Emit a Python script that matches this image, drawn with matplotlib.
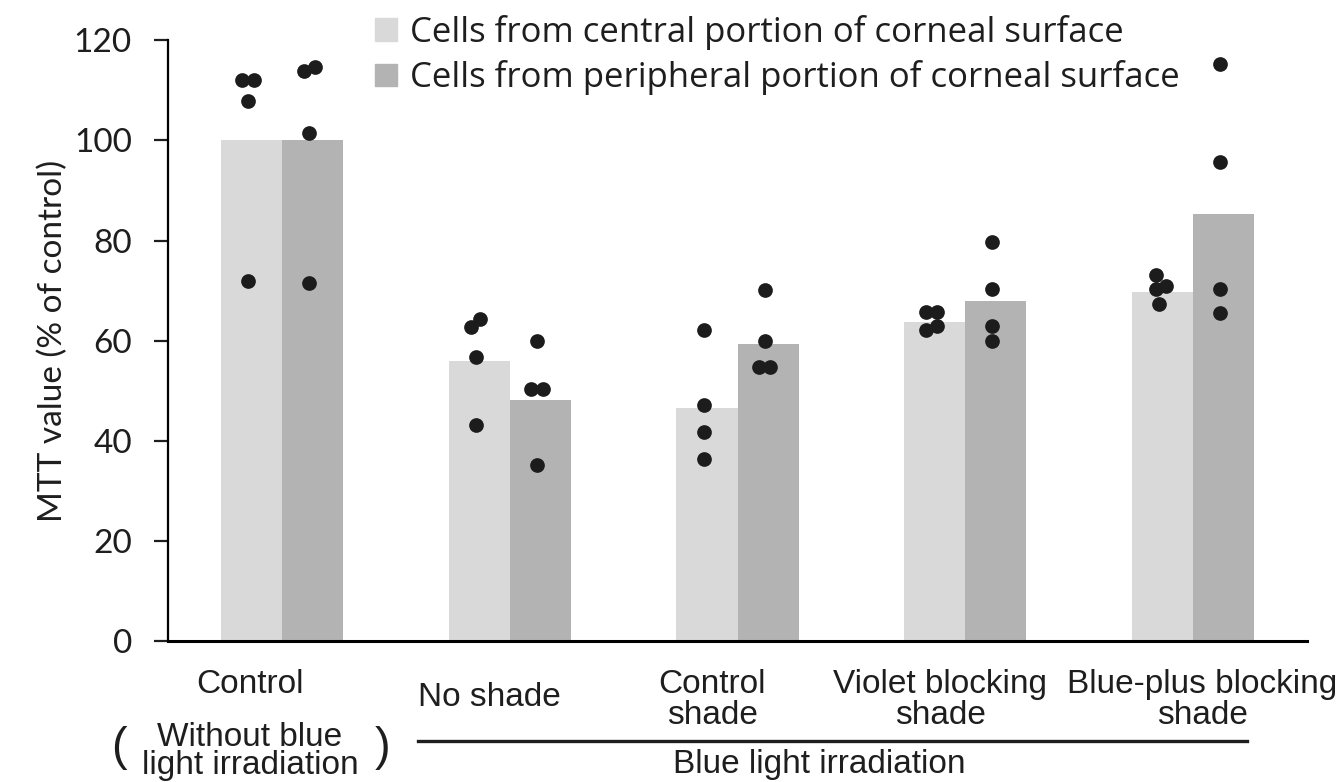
import numpy as np
import matplotlib.pyplot as plt
from matplotlib.patches import Patch

# data
groups = ["Control", "No shade", "Control\nshade", "Violet blocking\nshade", "Blue-plus blocking\nshade"]
central_mean = [100, 56.0, 46.5, 63.7, 69.7]
peripheral_mean = [100, 48.2, 59.3, 68.0, 85.3]
central_pts = [[112.0, 112.0, 107.8, 72.0],
               [64.3, 62.8, 56.7, 43.2],
               [62.1, 47.2, 41.7, 36.5],
               [65.8, 65.8, 62.9, 62.1],
               [73.1, 70.9, 70.3, 67.3]]
peripheral_pts = [[114.7, 113.9, 101.5, 71.6],
                  [60.0, 50.4, 50.4, 35.2],
                  [70.1, 59.9, 54.8, 54.8],
                  [79.7, 70.3, 62.9, 60.0],
                  [115.3, 95.7, 70.3, 65.5]]
series_names = ["Cells from central portion of corneal surface",
                "Cells from peripheral portion of corneal surface"]
ylabel = "MTT value (% of control)"
control_note = "Without blue\nlight irradiation"
irradiation_note = "Blue light irradiation"

main_font = ["Lato", "DejaVu Sans"]
legend_font = ["Open Sans", "DejaVu Sans"]
cat_font = ["Liberation Sans", "DejaVu Sans"]

c_light = "#d9d9d9"
c_dark = "#b3b3b3"
dot_c = "#1c1c1c"
txt_c = "#1e1e1e"

fig = plt.figure(figsize=(13.43, 7.82), dpi=100)
ax = fig.add_axes([0.1251, 0.1797, 0.8481, 0.7691])

x = np.arange(len(groups))
w = 0.268
ax.bar(x - w / 2, central_mean, w, color=c_light, zorder=1)
ax.bar(x + w / 2, peripheral_mean, w, color=c_dark, zorder=1)

# simple swarm so the dots do not sit on top of each other
px_x = 228.0        # pixels per x unit
px_y = 601.5 / 120  # pixels per y unit
gap = 11.5          # centre distance of touching dots (they overlap a bit)


def swarm(vals):
    vals = np.asarray(vals, float)
    order = np.argsort(vals)
    offs = np.zeros(len(vals))
    clusters = [[order[0]]]
    for a, b in zip(order[:-1], order[1:]):
        if (vals[b] - vals[a]) * px_y < gap:
            clusters[-1].append(b)
        else:
            clusters.append([b])
    cand = [0.0]
    for k in range(1, 60):
        cand += [k * 0.5, -k * 0.5]
    for cl in clusters:
        placed = []
        for i in cl:
            for c in cand:
                ok = True
                for j in placed:
                    dx = c - offs[j]
                    dy = (vals[i] - vals[j]) * px_y
                    if dx * dx + dy * dy < gap * gap * 0.98:
                        ok = False
                        break
                if ok:
                    offs[i] = c
                    break
            placed.append(i)
        offs[cl] -= np.mean(offs[cl])
    return offs / px_x


for i in range(len(groups)):
    for pts, sh in ((central_pts[i], -w / 2), (peripheral_pts[i], w / 2)):
        o = swarm(pts)
        ax.scatter(i + sh - 0.015 + o, pts, s=112, color=dot_c, zorder=3, linewidths=0)

ax.set_xlim(-0.5, 4.5)
ax.set_ylim(0, 120)
ax.set_yticks(range(0, 121, 20))
ax.set_xticks([])
for s in ("top", "right"):
    ax.spines[s].set_visible(False)
ax.spines["left"].set_linewidth(1.6)
ax.spines["bottom"].set_linewidth(2.2)
ax.tick_params(axis="y", length=10, width=1.6, pad=16, labelsize=24, colors=txt_c)
for t in ax.get_yticklabels():
    t.set_family(main_font)
ax.set_ylabel(ylabel, fontsize=24, family=main_font, labelpad=4, color=txt_c)

handles = [Patch(color=c_light), Patch(color=c_dark)]
fig.legend(handles, series_names, loc="upper left", bbox_to_anchor=(375 / 1343, 0.981),
           frameon=False, prop={"family": legend_font, "size": 25},
           handlelength=0.63, handleheight=0.63, handletextpad=0.38,
           labelspacing=0.3, borderpad=0, borderaxespad=0, labelcolor=txt_c)

# text below the axis, placed by baseline (pixel rows of the picture)
tr = ax.get_xaxis_transform()


def row(ypix):
    return (641.5 - ypix) / 601.5


label_x = [-0.14, 0.91, 1.89, 2.89, 4.04]
for i, (lx, g) in enumerate(zip(label_x, groups)):
    lines = g.split("\n")
    if len(lines) == 1:
        base = [693] if i == 0 else [706]
    else:
        base = [693, 724]
    for ln, b in zip(lines, base):
        ax.text(lx, row(b), ln, transform=tr, ha="center", va="baseline", fontsize=24,
                family=cat_font, color=txt_c)

for ln, b in zip(control_note.split("\n"), [746, 774]):
    ax.text(-0.14, row(b), ln, transform=tr, ha="center", va="baseline", fontsize=24,
            family=cat_font, color=txt_c)
ax.text(-0.715, row(748), "(", transform=tr, ha="center", va="center", fontsize=34,
        family=cat_font, color=txt_c)
ax.text(0.44, row(748), ")", transform=tr, ha="center", va="center", fontsize=34,
        family=cat_font, color=txt_c)
ax.plot([0.596, 4.237], [row(741), row(741)], transform=tr, color=txt_c, lw=2.4,
        clip_on=False)
ax.text(2.36, row(773), irradiation_note, transform=tr, ha="center", va="baseline",
        fontsize=24, family=cat_font, color=txt_c)

fig.savefig("out.png", dpi=100)
